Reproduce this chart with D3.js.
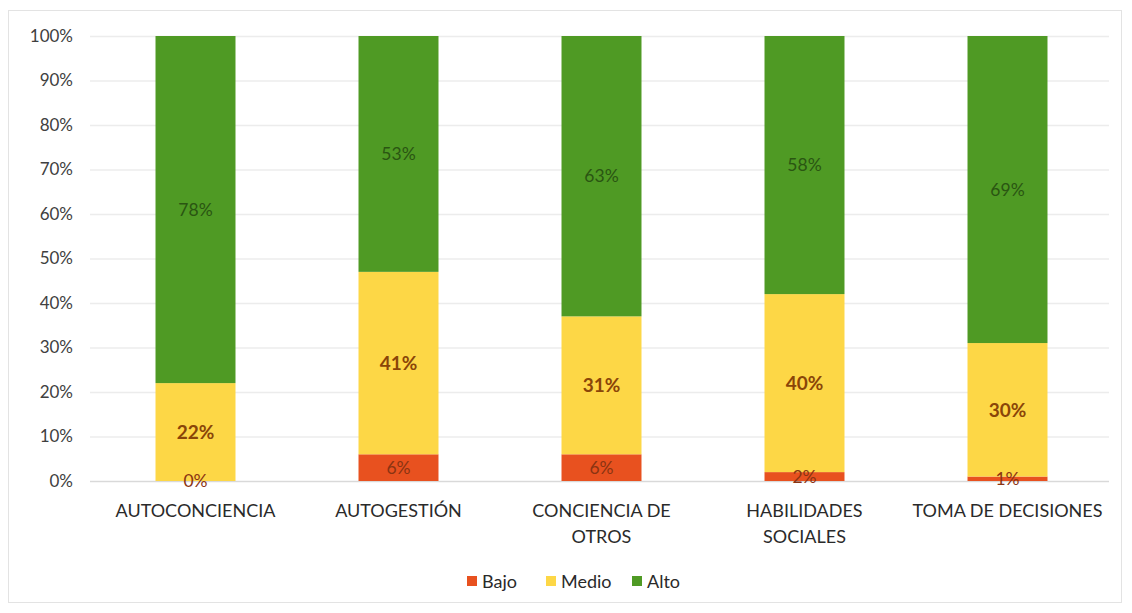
<!DOCTYPE html>
<html><head><meta charset="utf-8">
<script src="https://cdn.jsdelivr.net/npm/d3@7"></script>
<style>body{margin:0;background:#fff}svg{display:block}</style>
</head><body><svg id="c" width="1132" height="613"></svg>
<script>
const categories = [["AUTOCONCIENCIA"],["AUTOGESTIÓN"],["CONCIENCIA DE","OTROS"],["HABILIDADES","SOCIALES"],["TOMA DE DECISIONES"]];
const seriesNames = ["Bajo","Medio","Alto"];
const bajo  = [0, 6, 6, 2, 1];
const medio = [22, 41, 31, 40, 30];
const alto  = [78, 53, 63, 58, 69];
const yTicks = [0,10,20,30,40,50,60,70,80,90,100];
const colors = {Bajo:"#e8511f", Medio:"#fdd746", Alto:"#4f9a24"};
const labelColors = {Bajo:"#8a3412", Medio:"#8a4508", Alto:"#2a5512"};
const FONT = "Lato, 'Open Sans', sans-serif";

const svg = d3.select("#c");
svg.append("rect").attr("x",8.5).attr("y",10.5).attr("width",1113).attr("height",592)
  .attr("fill","#fff").attr("stroke","#e3e3e3");

const x = d3.scaleBand().domain(d3.range(categories.length)).range([94,1109]).paddingInner(0.606).paddingOuter(0.303);
const y = d3.scaleLinear().domain([0,100]).range([481,36]);

// gridlines
svg.append("g").selectAll("line").data(yTicks).join("line")
  .attr("x1",90).attr("x2",1109).attr("y1",d=>y(d)+0.5).attr("y2",d=>y(d)+0.5)
  .attr("stroke",d=>d===0?"#d9d9d9":"#ececec").attr("stroke-width",1.5);

const yAxis = svg.append("g").attr("transform","translate(73,0)")
  .call(d3.axisLeft(y).tickValues(yTicks).tickFormat(d=>d+"%").tickSize(0).tickPadding(0));
yAxis.select(".domain").remove();
yAxis.selectAll("text").attr("font-family",FONT).attr("font-size",17).attr("fill","#404040");

const rows = categories.map((c,i)=>({i, Bajo:bajo[i], Medio:medio[i], Alto:alto[i]}));
const stack = d3.stack().keys(seriesNames)(rows);

const g = svg.append("g");
stack.forEach(s=>{
  g.selectAll(null).data(s).join("rect")
    .attr("x",d=>x(d.data.i)).attr("width",x.bandwidth())
    .attr("y",d=>y(d[1])).attr("height",d=>y(d[0])-y(d[1]))
    .attr("fill",colors[s.key]);
});
stack.forEach(s=>{
  g.selectAll(null).data(s).join("text")
    .attr("x",d=>x(d.data.i)+x.bandwidth()/2)
    .attr("y",d=>y((d[0]+d[1])/2))
    .attr("dy","0.36em")
    .attr("text-anchor","middle")
    .attr("font-family",FONT)
    .attr("font-size",s.key==="Medio"?19:17.5)
    .attr("font-weight",s.key==="Medio"?"bold":"normal")
    .attr("fill",labelColors[s.key])
    .text(d=>(d[1]-d[0])+"%");
});

// x labels
const xl = svg.append("g");
categories.forEach((lines,i)=>{
  const t = xl.append("text").attr("x",x(i)+x.bandwidth()/2).attr("y",517)
    .attr("text-anchor","middle").attr("font-family",FONT)
    .attr("font-size",18).attr("fill","#2a2a2a");
  lines.forEach((l,k)=>t.append("tspan").attr("x",x(i)+x.bandwidth()/2).attr("dy",k?26:0).text(l));
});

// legend
const leg = svg.append("g");
const items = [{k:"Bajo",x:467},{k:"Medio",x:546},{k:"Alto",x:632}];
items.forEach(it=>{
  leg.append("rect").attr("x",it.x).attr("y",576).attr("width",10).attr("height",10).attr("fill",colors[it.k]);
  leg.append("text").attr("x",it.x+15).attr("y",588).attr("font-family",FONT)
    .attr("font-size",18).attr("fill","#2a2a2a").text(it.k);
});
</script></body></html>
